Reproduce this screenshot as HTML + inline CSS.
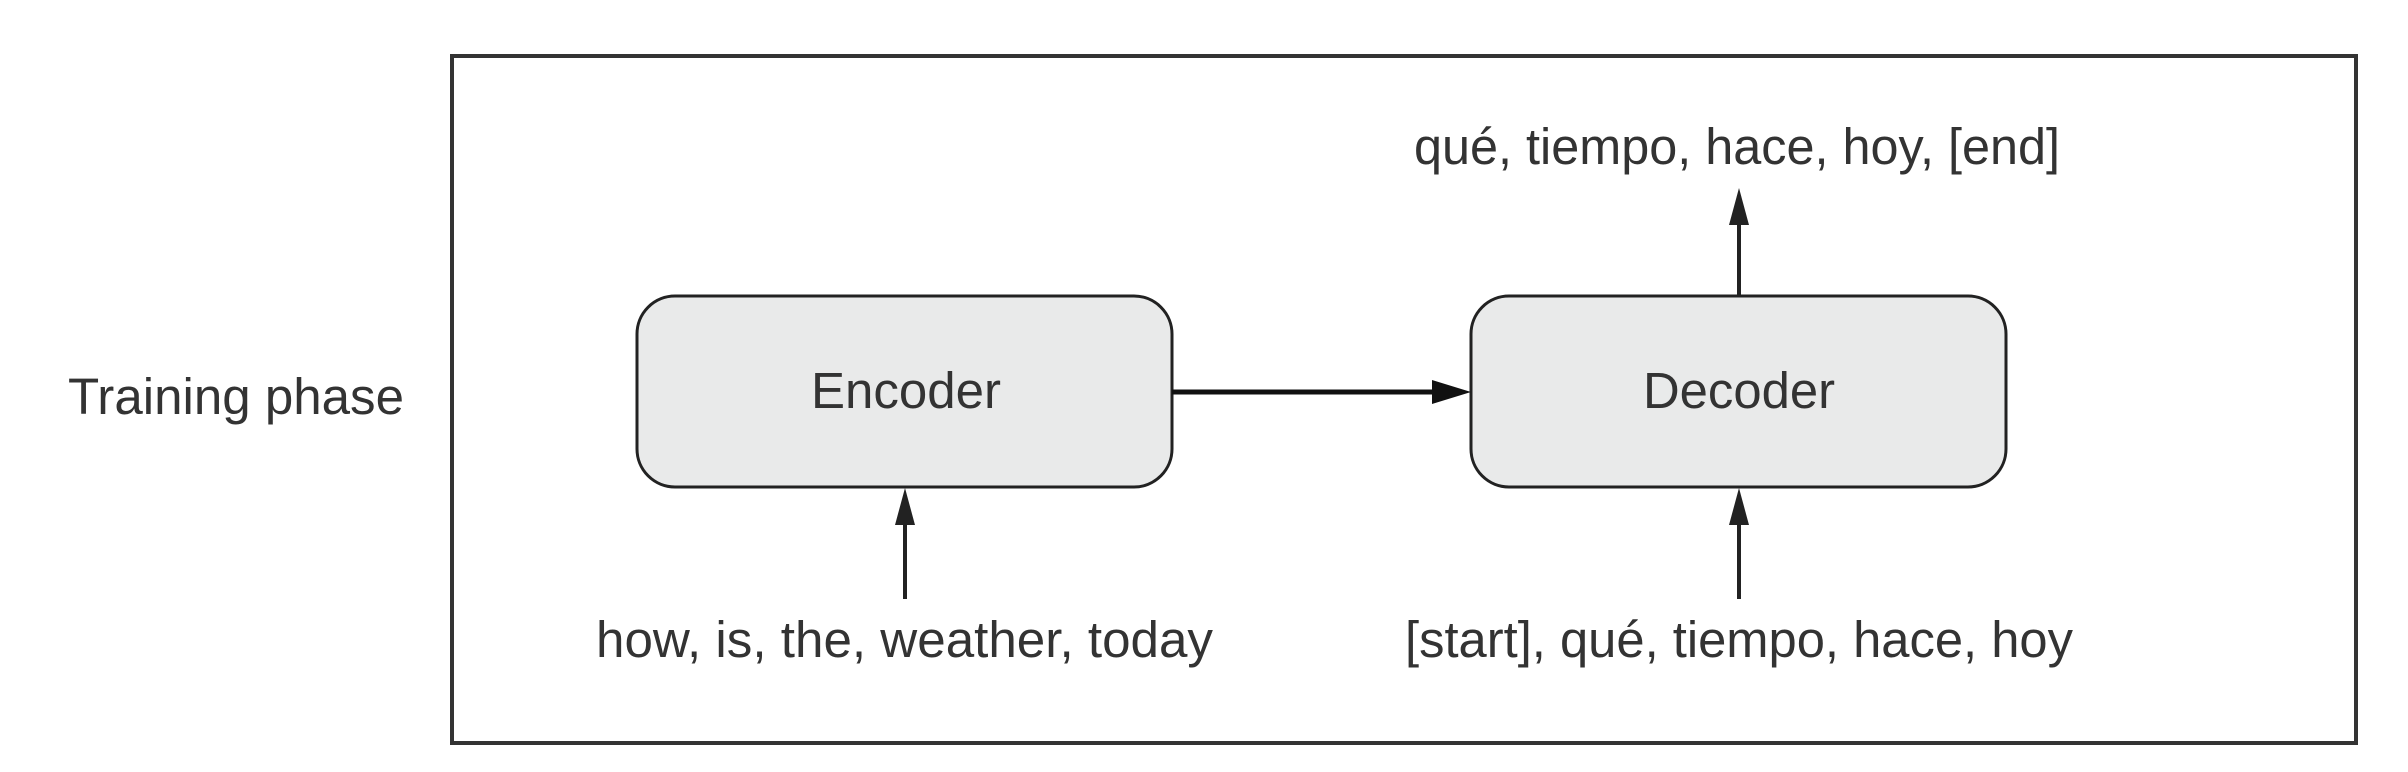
<!DOCTYPE html>
<html><head><meta charset="utf-8"><style>
html,body{margin:0;padding:0;background:#fff;}
svg{display:block;}
text{font-family:"Liberation Sans",Arial,sans-serif;fill:#333;font-size:51px;}
</style></head><body>
<svg width="2408" height="772" viewBox="0 0 2408 772" xmlns="http://www.w3.org/2000/svg">
<rect x="452" y="56" width="1904" height="687" fill="none" stroke="#333" stroke-width="4"/>
<rect x="637" y="296" width="535" height="191" rx="38" ry="38" fill="#e9eaea" stroke="#222" stroke-width="3"/>
<rect x="1471" y="296" width="535" height="191" rx="38" ry="38" fill="#e9eaea" stroke="#222" stroke-width="3"/>
<text x="811" y="408" textLength="190" lengthAdjust="spacingAndGlyphs">Encoder</text>
<text x="1643" y="408" textLength="192" lengthAdjust="spacingAndGlyphs">Decoder</text>
<text x="68" y="414" textLength="336" lengthAdjust="spacingAndGlyphs">Training phase</text>
<text x="1414" y="164" textLength="646" lengthAdjust="spacingAndGlyphs">qué, tiempo, hace, hoy, [end]</text>
<text x="596" y="657" textLength="617" lengthAdjust="spacingAndGlyphs">how, is, the, weather, today</text>
<text x="1405" y="657" textLength="668" lengthAdjust="spacingAndGlyphs">[start], qué, tiempo, hace, hoy</text>
<line x1="1172" y1="392" x2="1436" y2="392" stroke="#111" stroke-width="5"/>
<polygon points="1471,392 1432,380 1432,404" fill="#111"/>
<line x1="905" y1="599" x2="905" y2="522" stroke="#222" stroke-width="4"/>
<polygon points="905,488 895,525 915,525" fill="#222"/>
<line x1="1739" y1="599" x2="1739" y2="522" stroke="#222" stroke-width="4"/>
<polygon points="1739,488 1729,525 1749,525" fill="#222"/>
<line x1="1739" y1="296" x2="1739" y2="222" stroke="#222" stroke-width="4"/>
<polygon points="1739,188 1729,225 1749,225" fill="#222"/>
</svg>
</body></html>
